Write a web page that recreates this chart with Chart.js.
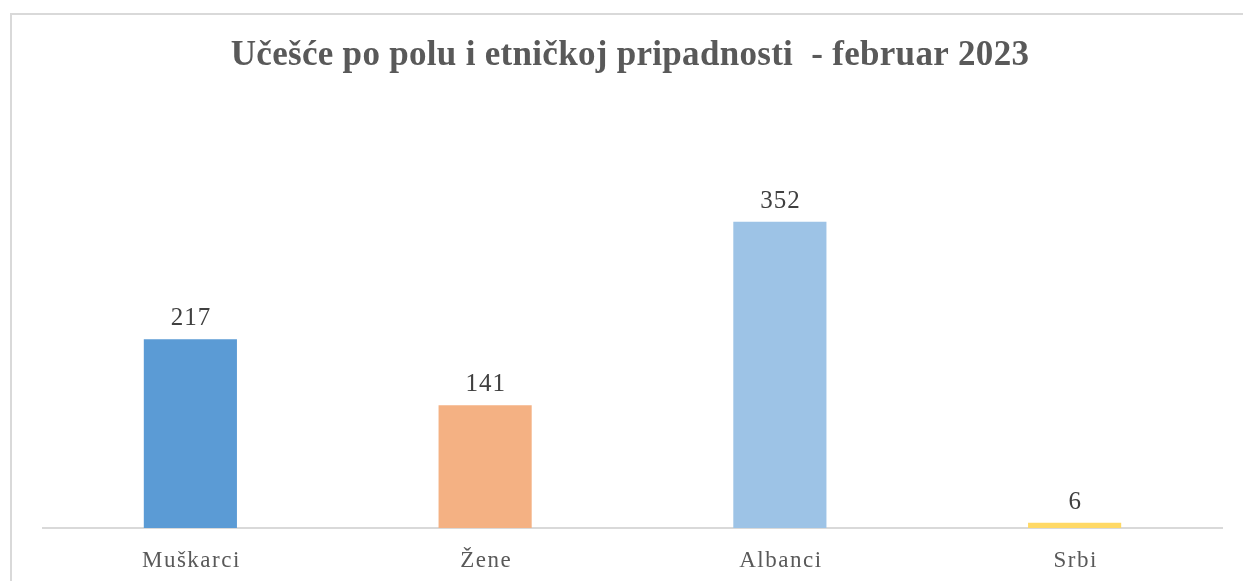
<!DOCTYPE html>
<html>
<head>
<meta charset="utf-8">
<script src="https://cdn.jsdelivr.net/npm/chart.js@4"></script>
<style>
  html, body { margin:0; padding:0; background:#fff; overflow:hidden; }
  #frame { position:absolute; left:10px; top:13px; width:1300px; height:700px;
           border-left:2px solid #d9d9d9; border-top:2px solid #d9d9d9; box-sizing:border-box; }
  #wrap { position:absolute; left:0; top:0; width:1243px; height:581px; }
</style>
</head>
<body>
<div id="frame"></div>
<div id="wrap"><canvas id="chart"></canvas></div>
<script>
/* data */
const categories = ['Muškarci', 'Žene', 'Albanci', 'Srbi'];
const values = [217, 141, 352, 6];
const barColors = ['#5B9BD5', '#F4B183', '#9DC3E6', '#FFD966'];
const titleText = 'Učešće po polu i etničkoj pripadnosti  - februar 2023';

const SERIF = "'Liberation Serif','Times New Roman',serif";

/* title, value labels and category labels drawn by hand (letter spacing) */
const textLayer = {
  id: 'textLayer',
  afterDraw(chart){
    const ctx = chart.ctx;
    const meta = chart.getDatasetMeta(0);
    const xs = chart.scales.x;
    ctx.save();
    ctx.textAlign = 'center';
    ctx.textBaseline = 'alphabetic';

    ctx.font = 'bold 35px ' + SERIF;
    ctx.fillStyle = '#595959';
    ctx.letterSpacing = '0.3px';
    ctx.fillText(titleText, 630, 65);

    ctx.font = '25px ' + SERIF;
    ctx.fillStyle = '#404040';
    ctx.letterSpacing = '1px';
    meta.data.forEach((bar, i) => {
      ctx.fillText(String(values[i]), bar.x + 0.5, bar.y - 14);
    });

    ctx.font = '23px ' + SERIF;
    ctx.fillStyle = '#595959';
    ctx.letterSpacing = '1.5px';
    categories.forEach((c, i) => {
      ctx.fillText(c, xs.getPixelForValue(i) + 1, 567);
    });
    ctx.restore();
  }
};

new Chart(document.getElementById('chart'), {
  type: 'bar',
  data: {
    labels: categories,
    datasets: [{ data: values, backgroundColor: barColors, borderWidth: 0,
                 categoryPercentage: 1, barPercentage: 0.316 }],
  },
  options: {
    responsive: true,
    maintainAspectRatio: false,
    animation: false,
    layout: { padding: { left: 43, right: 21, top: 93, bottom: 45 } },
    plugins: {
      legend: { display: false },
      tooltip: { enabled: false },
      title: { display: false },
    },
    scales: {
      x: {
        grid: { display: false },
        border: { color: '#d9d9d9', width: 2 },
        ticks: { display: false },
      },
      y: { display: false, min: 0, max: 500 },
    },
  },
  plugins: [textLayer],
});
</script>
</body>
</html>
